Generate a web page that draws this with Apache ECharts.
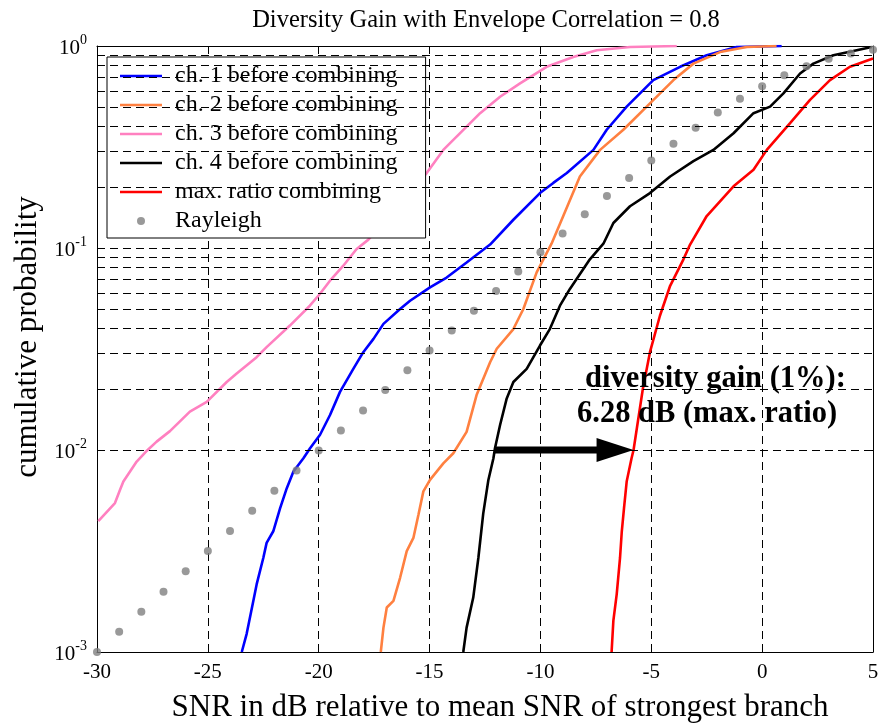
<!DOCTYPE html>
<html>
<head>
<meta charset="utf-8">
<script src="https://cdn.jsdelivr.net/npm/echarts@6/dist/echarts.min.js"></script>
<style>
  html, body { margin: 0; padding: 0; background: #fff; }
  #chart { width: 884px; height: 728px; }
</style>
</head>
<body>
<div id="chart"></div>
<script>
// Empirical CDFs of SNR (dB, relative to mean SNR of strongest branch)
const ch1 = [
  [-23.47, 0.001], [-23.25, 0.00123], [-22.95, 0.00179], [-22.8, 0.00216], [-22.5, 0.00292],
  [-22.35, 0.00347], [-22.05, 0.00396], [-21.74, 0.00516], [-21.44, 0.00647], [-21.14, 0.00783],
  [-20.69, 0.0091], [-20.39, 0.0102], [-19.94, 0.0119], [-19.49, 0.0149], [-19.04, 0.0194],
  [-18.44, 0.0252], [-17.99, 0.0305], [-17.53, 0.0355], [-17.08, 0.0421], [-16.33, 0.0499],
  [-15.88, 0.0548], [-14.98, 0.0638], [-14.23, 0.0714], [-13.33, 0.0847], [-12.27, 0.104],
  [-11.22, 0.138], [-10.02, 0.187], [-9.42, 0.21], [-8.81, 0.235], [-7.61, 0.306],
  [-7.01, 0.385], [-6.11, 0.501], [-4.91, 0.678], [-3.7, 0.789], [-2.5, 0.9],
  [-1.15, 0.989], [0.88, 1.0]
];
const ch2 = [
  [-17.2, 0.001], [-17.08, 0.00132], [-16.93, 0.00166], [-16.63, 0.00179], [-16.33, 0.00233],
  [-16.03, 0.00316], [-15.73, 0.00367], [-15.5, 0.00479], [-15.28, 0.00624], [-14.98, 0.00711],
  [-14.38, 0.00859], [-13.93, 0.00964], [-13.33, 0.0123], [-12.88, 0.0187], [-12.27, 0.0272],
  [-11.97, 0.0317], [-11.22, 0.0397], [-10.77, 0.0499], [-10.17, 0.0757], [-9.5, 0.105],
  [-8.97, 0.144], [-8.22, 0.226], [-7.31, 0.306], [-6.26, 0.385], [-5.06, 0.52],
  [-4.0, 0.678], [-3.1, 0.818], [-1.9, 0.933], [-0.7, 0.989], [0.65, 1.0]
];
const ch3 = [
  [-29.94, 0.00444], [-29.19, 0.00546], [-28.96, 0.00635], [-28.81, 0.00699], [-28.21, 0.00877],
  [-27.8, 0.0098], [-27.31, 0.011], [-26.71, 0.0124], [-25.81, 0.0155], [-25.05, 0.0173],
  [-24.15, 0.0217], [-23.7, 0.0239], [-22.8, 0.0288], [-22.35, 0.0323], [-21.3, 0.0413],
  [-20.4, 0.0518], [-19.95, 0.0592], [-19.5, 0.0687], [-18.9, 0.0815], [-18.3, 0.0986],
  [-17.76, 0.11], [-15.13, 0.235], [-14.38, 0.306], [-12.72, 0.465], [-12.27, 0.51],
  [-11.82, 0.561], [-10.92, 0.653], [-9.72, 0.789], [-8.52, 0.883], [-7.46, 0.953],
  [-5.96, 0.989], [-3.85, 1.0]
];
const ch4 = [
  [-13.48, 0.001], [-13.33, 0.00132], [-13.03, 0.00186], [-12.8, 0.00292], [-12.58, 0.00484],
  [-12.35, 0.00708], [-12.12, 0.0091], [-12.05, 0.0102], [-11.82, 0.0133], [-11.52, 0.018],
  [-11.22, 0.0217], [-10.62, 0.0252], [-10.02, 0.0329], [-9.57, 0.0398], [-9.12, 0.0518],
  [-8.67, 0.0627], [-7.77, 0.0879], [-7.16, 0.105], [-6.71, 0.133], [-5.96, 0.161],
  [-5.06, 0.187], [-4.15, 0.226], [-3.1, 0.269], [-2.2, 0.306], [-1.29, 0.37],
  [-0.39, 0.465], [0.36, 0.501], [0.96, 0.583], [1.71, 0.731], [2.31, 0.818],
  [3.21, 0.9], [4.11, 0.944], [4.94, 0.989]
];
const mrc = [
  [-6.79, 0.001], [-6.71, 0.00143], [-6.56, 0.00193], [-6.41, 0.00292], [-6.33, 0.00396],
  [-6.23, 0.00516], [-6.11, 0.00698], [-5.89, 0.0091], [-5.8, 0.01], [-5.38, 0.0201],
  [-5.06, 0.0305], [-4.61, 0.0462], [-4.15, 0.065], [-3.55, 0.0879], [-3.25, 0.104],
  [-2.5, 0.144], [-1.29, 0.202], [-0.39, 0.244], [0.21, 0.306], [1.26, 0.415],
  [2.16, 0.541], [3.06, 0.678], [3.96, 0.789], [5.0, 0.867]
];
// Rayleigh reference points at integer dB steps
const rayleighX = [-30, -29, -28, -27, -26, -25, -24, -23, -22, -21, -20, -19, -18, -17, -16, -15, -14, -13,
  -12, -11, -10, -9, -8, -7, -6, -5, -4, -3, -2, -1, 0, 1, 2, 3, 4, 5];
const rayleighP = [0.001, 0.00126, 0.00158, 0.00199, 0.00251, 0.00316, 0.00397, 0.005, 0.00629, 0.00791,
  0.00995, 0.0125, 0.0157, 0.0198, 0.0248, 0.0311, 0.039, 0.0489, 0.0612, 0.0764, 0.0952, 0.118,
  0.147, 0.181, 0.222, 0.271, 0.328, 0.394, 0.468, 0.548, 0.632, 0.716, 0.795, 0.864, 0.919, 0.958];

// Diversity gain at the 1% level
const gainLevel = 0.01;
const gainStart = -12.08;
const gainDb = 6.28;

const xTicks = [-30, 5, 5];           // min, max, step
const minorY = [0.002, 0.003, 0.004, 0.005, 0.006, 0.007, 0.008, 0.009,
                0.02, 0.03, 0.04, 0.05, 0.06, 0.07, 0.08, 0.09,
                0.2, 0.3, 0.4, 0.5, 0.6, 0.7, 0.8, 0.9];

const names = ['ch. 1 before combining', 'ch. 2 before combining', 'ch. 3 before combining',
               'ch. 4 before combining', 'max. ratio combining', 'Rayleigh'];

const SERIF = '"Liberation Serif", "Times New Roman", serif';
const dash = [8, 5];
// thin bar used as the legend sample for line series (aspect kept, so it renders ~2.6px tall)
const LINE_ICON = 'path://M0,0 H420 V26 H0 Z';

const chart = echarts.init(document.getElementById('chart'), null, { renderer: 'canvas' });

function lineSeries(name, data, color) {
  return {
    name, type: 'line', data, symbol: 'none', smooth: false,
    lineStyle: { color, width: 2.6 }, itemStyle: { color },
    z: 3, animation: false
  };
}

const axisLineStyle = { color: '#000', width: 1 };

const option = {
  animation: false,
  backgroundColor: '#fff',
  title: {
    text: 'Diversity Gain with Envelope Correlation = 0.8',
    left: 481, top: 3, textAlign: 'center',
    textStyle: { fontFamily: SERIF, fontSize: 24.5, fontWeight: 'normal', color: '#000' }
  },
  grid: { left: 97, right: 11, top: 46, bottom: 73 },
  legend: {
    orient: 'vertical', left: 107, top: 57,
    data: names.map((n, i) => i === 5 ? { name: n, icon: 'circle' } : { name: n, icon: LINE_ICON }),
    backgroundColor: '#fff', borderColor: '#000', borderWidth: 1,
    padding: [7, 28, 5, 13],
    itemWidth: 42, itemHeight: 8, itemGap: 5,
    symbolKeepAspect: true,
    textStyle: { fontFamily: SERIF, fontSize: 24, color: '#000', padding: [0, 0, 0, 8] },
    selectedMode: false
  },
  xAxis: [{
    type: 'value', min: xTicks[0], max: xTicks[1], interval: xTicks[2],
    axisLine: { onZero: false, lineStyle: axisLineStyle },
    axisTick: { inside: true, length: 5, lineStyle: { color: '#000' } },
    axisLabel: { fontFamily: SERIF, fontSize: 21, color: '#000', margin: 10 },
    splitLine: { show: true, lineStyle: { color: '#000', type: dash, width: 1 } },
    name: 'SNR in dB relative to mean SNR of strongest branch',
    nameLocation: 'middle', nameGap: 40,
    nameTextStyle: { fontFamily: SERIF, fontSize: 31, color: '#000', padding: [0, 0, 0, 30] }
  }, {
    type: 'value', position: 'top', min: xTicks[0], max: xTicks[1], interval: xTicks[2],
    axisLine: { onZero: false, lineStyle: axisLineStyle },
    axisTick: { inside: true, length: 5, lineStyle: { color: '#000' } },
    axisLabel: { show: false }, splitLine: { show: false }
  }],
  yAxis: [{
    type: 'log', logBase: 10, min: 0.001, max: 1,
    axisLine: { show: true, onZero: false, lineStyle: axisLineStyle },
    axisTick: { show: true, inside: true, length: 5, lineStyle: { color: '#000' } },
    axisLabel: {
      margin: 10, color: '#000',
      formatter: v => '{b|10}{e|' + Math.round(Math.log10(v)) + '}',
      rich: {
        b: { fontFamily: SERIF, fontSize: 21, color: '#000', lineHeight: 26, verticalAlign: 'bottom' },
        e: { fontFamily: SERIF, fontSize: 14, color: '#000', verticalAlign: 'top', lineHeight: 14 }
      }
    },
    splitLine: { show: true, lineStyle: { color: '#000', type: dash, width: 1 } },
    name: 'cumulative probability', nameLocation: 'middle', nameGap: 49,
    nameTextStyle: { fontFamily: SERIF, fontSize: 31, color: '#000', padding: [0, 0, 0, 24] }
  }, {
    type: 'log', logBase: 10, min: 0.001, max: 1, position: 'right',
    axisLine: { show: true, onZero: false, lineStyle: axisLineStyle },
    axisTick: { show: true, inside: true, length: 5, lineStyle: { color: '#000' } },
    axisLabel: { show: false }, splitLine: { show: false }
  }],
  graphic: [
    { type: 'text', left: 585, top: 364, z: 10,
      style: { text: 'diversity gain (1%):', font: 'bold 30.5px ' + SERIF, fill: '#000' } },
    { type: 'text', left: 577, top: 399, z: 10,
      style: { text: gainDb.toFixed(2) + ' dB (max. ratio)', font: 'bold 30.5px ' + SERIF, fill: '#000' } }
  ],
  series: [
    {
      name: 'minor-grid', type: 'line', data: [], z: 1, silent: true,
      markLine: {
        silent: true, symbol: ['none', 'none'], animation: false,
        label: { show: false },
        lineStyle: { color: '#000', type: dash, width: 1 },
        data: minorY.map(v => ({ yAxis: v }))
      }
    },
    lineSeries(names[0], ch1, '#0000ff'),
    lineSeries(names[1], ch2, '#ff8040'),
    lineSeries(names[2], ch3, '#ff80c0'),
    lineSeries(names[3], ch4, '#000000'),
    lineSeries(names[4], mrc, '#ff0000'),
    {
      name: names[5], type: 'scatter', symbol: 'circle', symbolSize: 8,
      data: rayleighX.map((x, i) => [x, rayleighP[i]]),
      itemStyle: { color: '#808080' }, z: 4
    },
    {
      name: 'gain-arrow', type: 'custom', z: 6, silent: true,
      data: [[gainStart, gainLevel, gainDb]],
      renderItem: (params, api) => {
        const a = api.coord([api.value(0), api.value(1)]);
        const b = api.coord([api.value(0) + api.value(2), api.value(1)]);
        const headLen = 37, headHalf = 12, shaft = 7;
        return {
          type: 'group',
          children: [
            { type: 'rect', shape: { x: a[0], y: a[1] - shaft / 2, width: b[0] - headLen - a[0] + 1, height: shaft },
              style: { fill: '#000' } },
            { type: 'polygon', shape: { points: [[b[0] - headLen, b[1] - headHalf], [b[0], b[1]], [b[0] - headLen, b[1] + headHalf]] },
              style: { fill: '#000' } }
          ]
        };
      }
    }
  ]
};

chart.setOption(option);
</script>
</body>
</html>
